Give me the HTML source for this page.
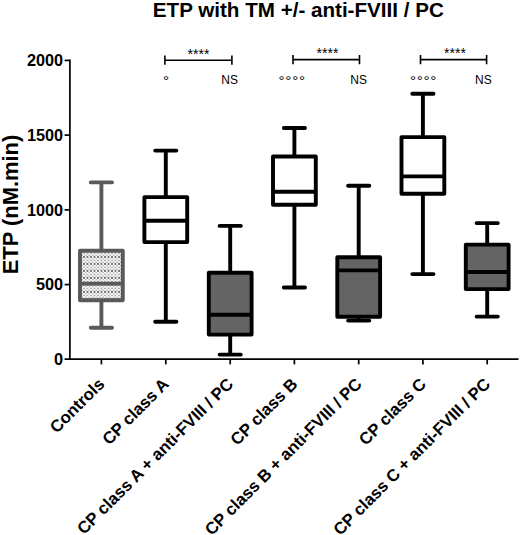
<!DOCTYPE html>
<html lang="en"><head><meta charset="utf-8"><title>ETP with TM +/- anti-FVIII / PC</title>
<style>html,body{margin:0;padding:0;background:#fff}body{width:520px;height:535px;overflow:hidden}svg{display:block}text{font-family:'Liberation Sans', sans-serif;fill:#000}</style>
</head><body>
<svg width="520" height="535" viewBox="0 0 520 535">
<defs><pattern id="dots" width="3.5" height="7" patternUnits="userSpaceOnUse" x="79.6" y="248.9"><rect width="3.5" height="7" fill="#fcfcfc"/><circle cx="0.9" cy="1.0" r="0.9" fill="#404040"/><circle cx="2.65" cy="2.75" r="0.8" fill="#a0a0a0"/><circle cx="0.9" cy="4.5" r="0.8" fill="#888"/><circle cx="2.65" cy="6.25" r="0.8" fill="#a0a0a0"/></pattern></defs>
<rect width="520" height="535" fill="#fff"/>
<text x="298.3" y="16.5" text-anchor="middle" font-size="19.6" font-weight="bold" textLength="291" lengthAdjust="spacingAndGlyphs">ETP with TM +/- anti-FVIII / PC</text>
<text transform="translate(17.7 204.5) rotate(-90)" text-anchor="middle" font-size="21.2" font-weight="bold" textLength="139.6" lengthAdjust="spacingAndGlyphs">ETP (nM.min)</text>
<g stroke="#000" stroke-width="1.7" fill="none" stroke-linecap="butt">
<path d="M69.9 59.6V360.1"/>
<path d="M64.6 359.2H518.5"/>
<path d="M64.6 60.4H70"/>
<path d="M64.6 135.1H70"/>
<path d="M64.6 209.9H70"/>
<path d="M64.6 284.6H70"/>
<path d="M101.4 359.2V364.4"/>
<path d="M165.8 359.2V364.4"/>
<path d="M230.2 359.2V364.4"/>
<path d="M294.4 359.2V364.4"/>
<path d="M358.7 359.2V364.4"/>
<path d="M422.9 359.2V364.4"/>
<path d="M487.2 359.2V364.4"/>
</g>
<text x="63.1" y="65.7" text-anchor="end" font-size="15.6" font-weight="bold" textLength="36.2" lengthAdjust="spacingAndGlyphs">2000</text>
<text x="63.1" y="140.7" text-anchor="end" font-size="15.6" font-weight="bold" textLength="36.2" lengthAdjust="spacingAndGlyphs">1500</text>
<text x="63.1" y="215.5" text-anchor="end" font-size="15.6" font-weight="bold" textLength="36.2" lengthAdjust="spacingAndGlyphs">1000</text>
<text x="63.1" y="290.2" text-anchor="end" font-size="15.6" font-weight="bold" textLength="27.2" lengthAdjust="spacingAndGlyphs">500</text>
<text x="63.1" y="364.9" text-anchor="end" font-size="15.6" font-weight="bold" textLength="9.1" lengthAdjust="spacingAndGlyphs">0</text>
<g stroke="#5a5a5a" stroke-width="3.9" stroke-linecap="round" stroke-linejoin="round" fill="none">
<path d="M101.4 182.4V250.7M101.4 300.3V327.8" stroke-linecap="butt"/>
<path d="M90.8 182.4H112.0M90.8 327.8H112.0"/>
<rect x="80.0" y="250.7" width="42.8" height="49.6" fill="url(#dots)"/>
<path d="M80.0 283.6H122.8" stroke-linecap="butt"/>
</g>
<g stroke="#000" stroke-width="3.9" stroke-linecap="round" stroke-linejoin="round" fill="none">
<path d="M165.8 150.6V197.1M165.8 242.1V321.7" stroke-linecap="butt"/>
<path d="M155.2 150.6H176.4M155.2 321.7H176.4"/>
<rect x="144.4" y="197.1" width="42.8" height="45.0" fill="#fff"/>
<path d="M144.4 220.7H187.2" stroke-linecap="butt"/>
</g>
<g stroke="#000" stroke-width="3.9" stroke-linecap="round" stroke-linejoin="round" fill="none">
<path d="M230.2 225.9V272.7M230.2 334.6V354.6" stroke-linecap="butt"/>
<path d="M219.6 225.9H240.8M219.6 354.6H240.8"/>
<rect x="208.8" y="272.7" width="42.8" height="61.9" fill="#646464"/>
<path d="M208.8 314.8H251.6" stroke-linecap="butt"/>
</g>
<g stroke="#000" stroke-width="3.9" stroke-linecap="round" stroke-linejoin="round" fill="none">
<path d="M294.4 128.0V156.5M294.4 204.7V287.5" stroke-linecap="butt"/>
<path d="M283.8 128.0H305.0M283.8 287.5H305.0"/>
<rect x="273.0" y="156.5" width="42.8" height="48.2" fill="#fff"/>
<path d="M273.0 191.8H315.8" stroke-linecap="butt"/>
</g>
<g stroke="#000" stroke-width="3.9" stroke-linecap="round" stroke-linejoin="round" fill="none">
<path d="M358.7 185.8V257.2M358.7 316.8V320.6" stroke-linecap="butt"/>
<path d="M348.1 185.8H369.3M348.1 320.6H369.3"/>
<rect x="337.3" y="257.2" width="42.8" height="59.6" fill="#646464"/>
<path d="M337.3 270.4H380.1" stroke-linecap="butt"/>
</g>
<g stroke="#000" stroke-width="3.9" stroke-linecap="round" stroke-linejoin="round" fill="none">
<path d="M422.9 93.7V137.1M422.9 193.8V274.1" stroke-linecap="butt"/>
<path d="M412.3 93.7H433.5M412.3 274.1H433.5"/>
<rect x="401.5" y="137.1" width="42.8" height="56.7" fill="#fff"/>
<path d="M401.5 176.4H444.3" stroke-linecap="butt"/>
</g>
<g stroke="#000" stroke-width="3.9" stroke-linecap="round" stroke-linejoin="round" fill="none">
<path d="M487.2 223.1V244.6M487.2 289.1V316.6" stroke-linecap="butt"/>
<path d="M476.6 223.1H497.8M476.6 316.6H497.8"/>
<rect x="465.8" y="244.6" width="42.8" height="44.5" fill="#646464"/>
<path d="M465.8 272.0H508.6" stroke-linecap="butt"/>
</g>
<path d="M164.9 60.2H231.9M164.9 55.5V64.8M231.9 55.5V64.8" stroke="#000" stroke-width="1.6" fill="none"/>
<text x="198.5" y="58.9" text-anchor="middle" font-size="14">****</text>
<text x="229.6" y="84.0" text-anchor="middle" font-size="12">NS</text>
<text x="166.0" y="85.6" text-anchor="middle" font-size="15.2" fill="#3a3a3a">°</text>
<path d="M293.0 59.6H359.5M293.0 54.9V64.2M359.5 54.9V64.2" stroke="#000" stroke-width="1.6" fill="none"/>
<text x="327.5" y="58.2" text-anchor="middle" font-size="14">****</text>
<text x="358.6" y="84.0" text-anchor="middle" font-size="12">NS</text>
<text x="281.5" y="86.1" text-anchor="middle" font-size="15.2" fill="#3a3a3a">°</text>
<text x="288.4" y="86.1" text-anchor="middle" font-size="15.2" fill="#3a3a3a">°</text>
<text x="295.2" y="86.1" text-anchor="middle" font-size="15.2" fill="#3a3a3a">°</text>
<text x="302.1" y="86.1" text-anchor="middle" font-size="15.2" fill="#3a3a3a">°</text>
<path d="M420.5 59.6H486.6M420.5 54.9V64.2M486.6 54.9V64.2" stroke="#000" stroke-width="1.6" fill="none"/>
<text x="455.0" y="58.2" text-anchor="middle" font-size="14">****</text>
<text x="483.4" y="84.0" text-anchor="middle" font-size="12">NS</text>
<text x="413.1" y="86.1" text-anchor="middle" font-size="15.2" fill="#3a3a3a">°</text>
<text x="419.8" y="86.1" text-anchor="middle" font-size="15.2" fill="#3a3a3a">°</text>
<text x="426.5" y="86.1" text-anchor="middle" font-size="15.2" fill="#3a3a3a">°</text>
<text x="433.3" y="86.1" text-anchor="middle" font-size="15.2" fill="#3a3a3a">°</text>
<text transform="translate(105.5 385.1) rotate(-45)" text-anchor="end" font-size="16.8" font-weight="bold">Controls</text>
<text transform="translate(169.9 385.1) rotate(-45)" text-anchor="end" font-size="16.8" font-weight="bold">CP class A</text>
<text transform="translate(234.3 385.1) rotate(-45)" text-anchor="end" font-size="16.8" font-weight="bold">CP class A + anti-FVIII / PC</text>
<text transform="translate(298.5 385.1) rotate(-45)" text-anchor="end" font-size="16.8" font-weight="bold">CP class B</text>
<text transform="translate(362.8 385.1) rotate(-45)" text-anchor="end" font-size="16.8" font-weight="bold">CP class B + anti-FVIII / PC</text>
<text transform="translate(427.0 385.1) rotate(-45)" text-anchor="end" font-size="16.8" font-weight="bold">CP class C</text>
<text transform="translate(491.3 385.1) rotate(-45)" text-anchor="end" font-size="16.8" font-weight="bold">CP class C + anti-FVIII / PC</text>
</svg>
</body></html>
